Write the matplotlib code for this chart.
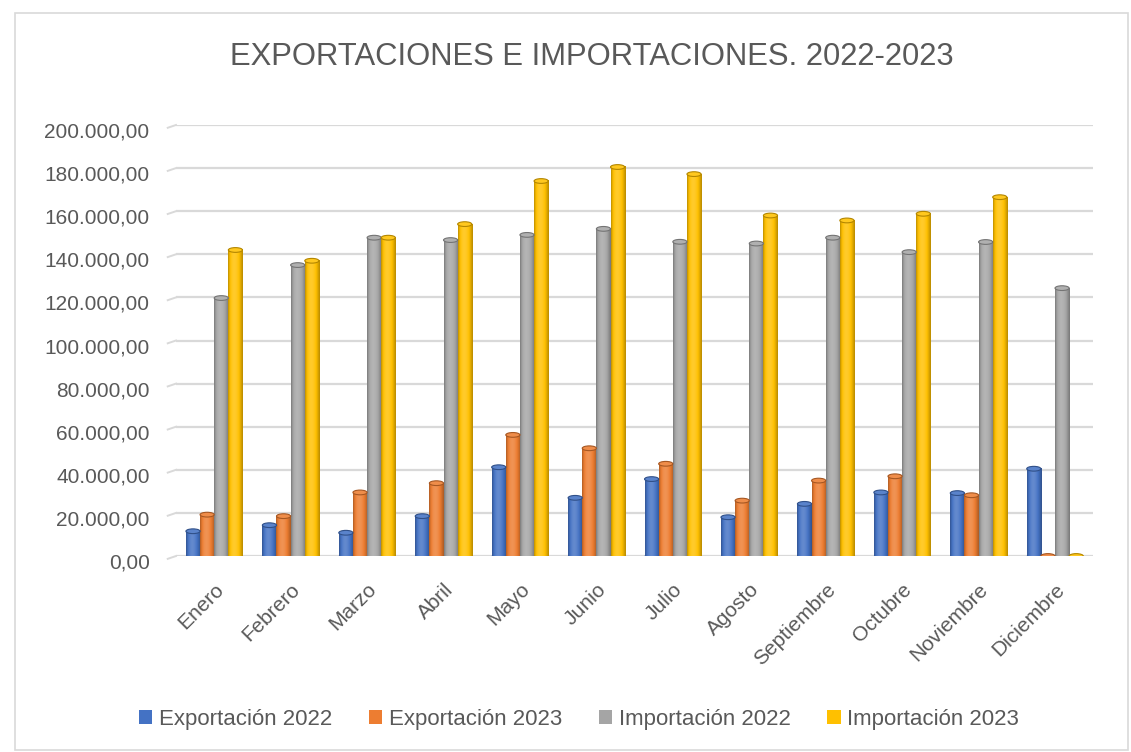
import matplotlib
matplotlib.use("Agg")
from matplotlib import pyplot as plt
from matplotlib import colors as mcolors
from matplotlib import transforms as mtransforms
from matplotlib.patches import Ellipse, Rectangle
from matplotlib.ticker import FuncFormatter
import numpy as np

meses = ["Enero", "Febrero", "Marzo", "Abril", "Mayo", "Junio", "Julio",
         "Agosto", "Septiembre", "Octubre", "Noviembre", "Diciembre"]
export_2022 = [11500, 14300, 10800, 18500, 41200, 27000, 35700, 18000, 24200, 29500, 29200, 40500]
export_2023 = [19200, 18500, 29500, 33800, 56200, 50000, 42800, 25700, 35000, 37000, 28200, 0]
import_2022 = [119700, 135000, 147700, 146600, 149000, 151800, 145800, 145000, 147700, 141000, 145700, 124300]
import_2023 = [142000, 137000, 147700, 154000, 174000, 180500, 177200, 158000, 155700, 158800, 166500, 0]

series = [("Exportación 2022", export_2022, "#4472C4"),
          ("Exportación 2023", export_2023, "#ED7D31"),
          ("Importación 2022", import_2022, "#A5A5A5"),
          ("Importación 2023", import_2023, "#FFC000")]

plt.rcParams["font.family"] = ["Liberation Sans", "DejaVu Sans"]
txt = "#595959"


def shade(c, f):
    c = np.array(mcolors.to_rgb(c))
    if f < 1:
        return c * f
    return c + (1 - c) * (f - 1)


def cyl_image(c):
    t = np.linspace(0, 1, 40)
    f = 0.72 + 0.45 * np.sin(np.pi * t ** 0.8)
    row = np.array([np.clip(shade(c, v), 0, 1) for v in f])
    return row[np.newaxis, :, :]


fig = plt.figure(figsize=(11.31, 7.52), dpi=100)
fig.patches.append(Rectangle((0.013, 0.003), 0.984, 0.98, transform=fig.transFigure,
                             fill=False, edgecolor="#D9D9D9", lw=1.2))
ax = fig.add_axes([0.1556, 0.2606, 0.811, 0.5732])

x = np.arange(len(meses))
bw = 0.185
ell_h = 2200
for i, (name, vals, col) in enumerate(series):
    offs = (i - 1.5) * bw
    img = cyl_image(col)
    for xi, v in zip(x, vals):
        x0 = xi + offs - bw / 2
        ax.imshow(img, extent=[x0, x0 + bw, 0, v], aspect="auto",
                  interpolation="bicubic", zorder=3)
        ax.add_patch(Ellipse((xi + offs, 0), bw, ell_h, facecolor=shade(col, 0.9),
                             edgecolor="none", zorder=2.9))
        ax.add_patch(Ellipse((xi + offs, v), bw, ell_h, facecolor=shade(col, 1.12),
                             edgecolor=shade(col, 0.7), lw=0.8, zorder=3.1))
    ax.bar([0], [0], color=col, label=name)

ax.set_xlim(-0.5, len(meses) - 0.5)
ax.set_ylim(0, 200000)
yt = np.arange(0, 200001, 20000)
ax.set_yticks(yt)
ax.yaxis.set_major_formatter(FuncFormatter(
    lambda v, p: "{:,.2f}".format(v).replace(",", "X").replace(".", ",").replace("X", ".")))
ax.grid(axis="y", color="#D9D9D9", lw=1.6, zorder=0)
ax.set_axisbelow(True)
for s in ax.spines.values():
    s.set_visible(False)
ax.tick_params(axis="both", length=0, labelsize=15, labelcolor=txt)
ax.tick_params(axis="y", pad=19)
ax.set_xticks(x)
ax.set_xticklabels(meses, rotation=45, ha="right", rotation_mode="anchor")
ax.tick_params(axis="x", pad=17)

# shift y labels a bit down, like the front plane of the 3D chart
down = mtransforms.ScaledTranslation(0, -5 / 100, fig.dpi_scale_trans)
for lab in ax.get_yticklabels():
    lab.set_transform(lab.get_transform() + down)

# small slanted stubs at the left end of each gridline
stub = mtransforms.blended_transform_factory(ax.transAxes, ax.transData)
for v in yt:
    ax.plot([-0.009, 0.0], [v - 1300, v], color="#D9D9D9", lw=1.4,
            transform=stub, clip_on=False, zorder=0)

fig.text(0.523, 0.924, "EXPORTACIONES E IMPORTACIONES. 2022-2023", ha="center",
         va="center", fontsize=22.3, color=txt)
ax.legend(loc="center", bbox_to_anchor=(0.512, 0.043), bbox_transform=fig.transFigure,
          ncol=4, frameon=False, fontsize=16, labelcolor=txt, handlelength=0.6,
          handleheight=0.6, handletextpad=0.3, columnspacing=1.65)

plt.savefig("out.png", dpi=100)
